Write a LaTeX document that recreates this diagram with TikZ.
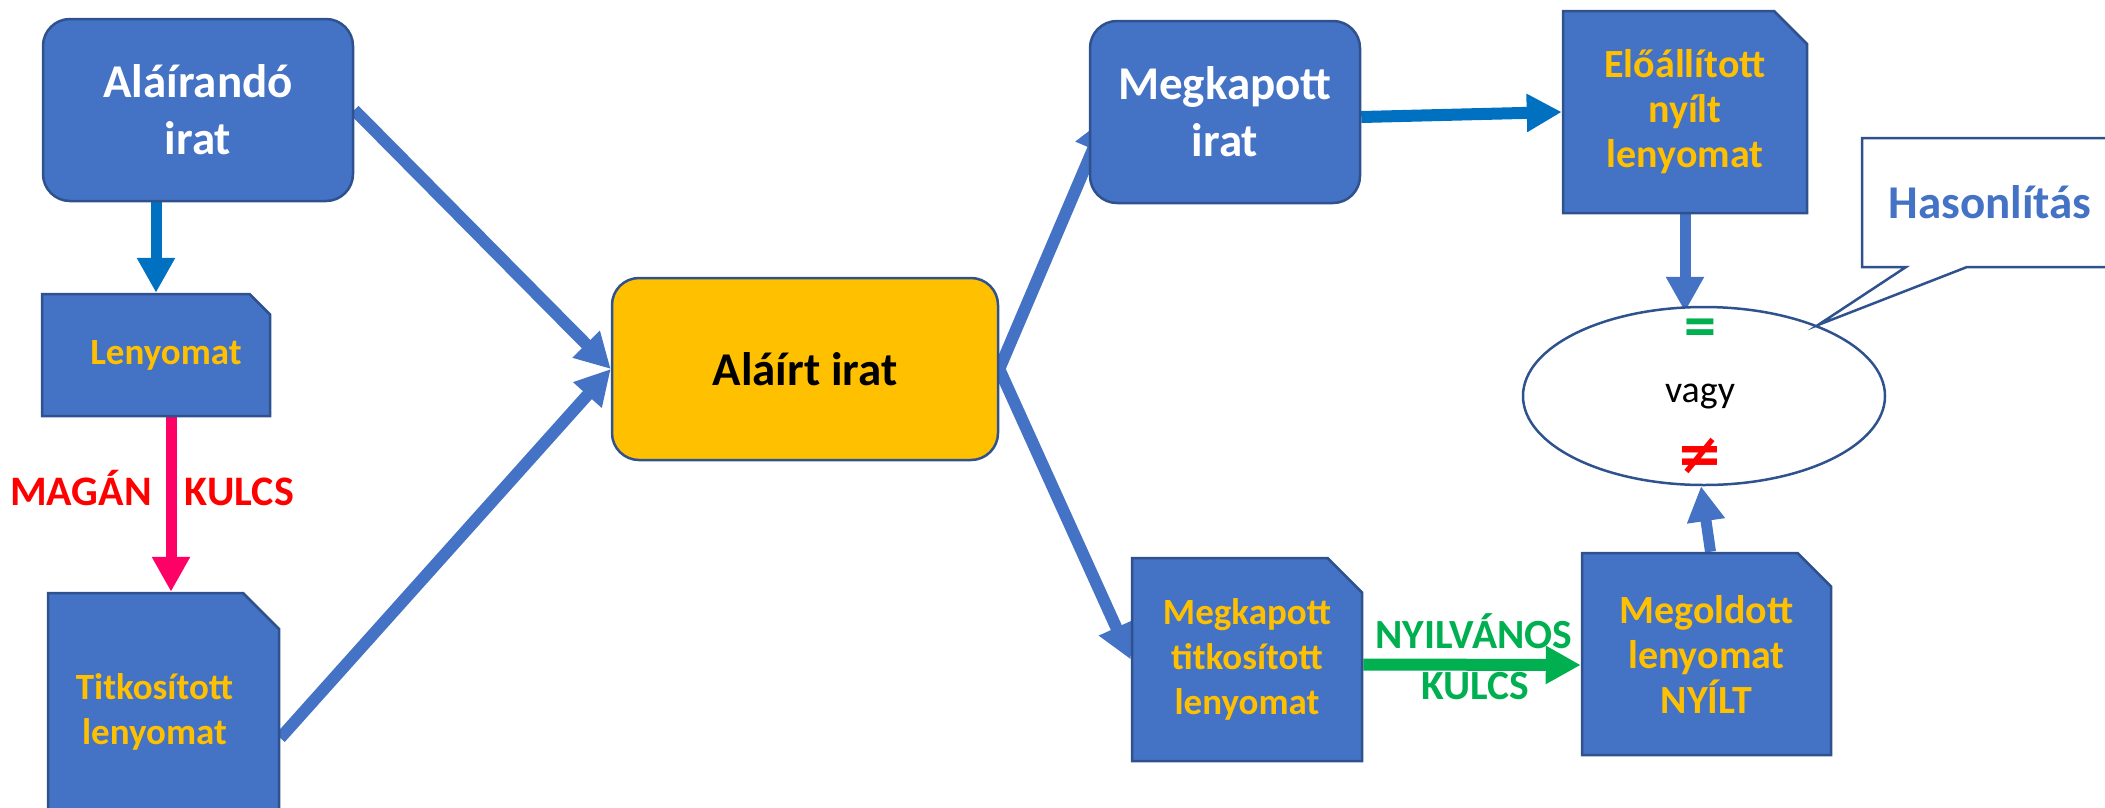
\documentclass[tikz,border=0pt]{standalone}
\usepackage{fontspec}
\setmainfont{Carlito}
\newfontfamily\djv{DejaVu Sans}
\usetikzlibrary{arrows.meta,shapes.misc,shapes.geometric,calc}
\definecolor{blu}{HTML}{4472C4}
\definecolor{bordc}{HTML}{2F528F}
\definecolor{orng}{HTML}{FFC000}
\definecolor{dblu}{HTML}{0070C0}
\definecolor{pinkc}{HTML}{FF0066}
\definecolor{redc}{HTML}{FF0000}
\definecolor{grn}{HTML}{00B050}
\pgfdeclarelayer{bg}
\pgfsetlayers{bg,main}
\newcommand{\fsz}[2]{\fontsize{#1}{#2}\selectfont}
\begin{document}
\begin{tikzpicture}[x=1pt,y=-1pt,
  roundbox/.style={rectangle, rounded corners=27pt, fill=blu, draw=bordc, line width=2.5pt, text=white, font=\bfseries\fsz{47}{57}, align=center, inner sep=0pt},
  docbox/.style={chamfered rectangle, chamfered rectangle corners=north east, fill=blu, draw=bordc, line width=2.5pt, text=orng, font=\bfseries\fsz{37}{45}, align=center, inner sep=0pt},
  tipA/.style={-{Triangle[width=36pt,length=35pt]}},
  conn/.style={tipA, draw=blu, line width=12pt},
  dconn/.style={tipA, draw=dblu, line width=11pt},
  pconn/.style={tipA, draw=pinkc, line width=11pt},
  gconn/.style={tipA, draw=grn, line width=12pt},
]
\useasboundingbox (0,0) rectangle (2105,807);

% boxes
\node[roundbox, minimum width=310pt, minimum height=182pt] (aa) at (198,110) {Aláírandó\\irat};
\node[docbox, minimum width=228pt, minimum height=122pt, chamfered rectangle xsep=10.5pt, chamfered rectangle ysep=10pt] (len) at (156,355) {\hspace*{20pt}Lenyomat};
\node[docbox, minimum width=231pt, minimum height=238pt, chamfered rectangle sep=18pt] (titk) at (163.5,712) {Titkosított\hspace*{18pt}\\lenyomat\hspace*{18pt}};
\node[roundbox, fill=orng, text=black, minimum width=386pt, minimum height=182pt] (signed) at (805,369) {Aláírt irat};
\node[roundbox, minimum width=270pt, minimum height=182pt] (mk) at (1225,112) {Megkapott\\irat};
\node[docbox, minimum width=230pt, minimum height=203pt, chamfered rectangle xsep=17pt, chamfered rectangle ysep=17.5pt] (mkt) at (1247,659.5) {Megkapott\\titkosított\\lenyomat};
\node[docbox, font=\bfseries\fsz{40}{45}, minimum width=244pt, minimum height=202pt, chamfered rectangle xsep=17pt, chamfered rectangle ysep=16pt] (elo) at (1685,112) {Előállított\\nyílt\\lenyomat};
\node[docbox, font=\bfseries\fsz{40}{45}, minimum width=249pt, minimum height=202pt, chamfered rectangle xsep=16.5pt, chamfered rectangle ysep=17pt] (meg) at (1706.5,654) {Megoldott\\lenyomat\\NYÍLT};
\node[ellipse, draw=bordc, line width=2.5pt, fill=white, minimum width=362pt, minimum height=178pt, inner sep=0pt] (ell) at (1704,396) {};

% ellipse contents
\node[text=grn, font=\bfseries\fsz{64}{64}, inner sep=0pt] (eq) at (1700,333) {=};
\node[font=\fsz{38}{46}, anchor=base, inner sep=0pt] (vagy) at (1700,402) {vagy};
\node[text=redc, font=\djv\bfseries\fsz{56}{56}, inner sep=0pt] (neq) at (1700,456) {≠};

% callout
\draw[draw=bordc, line width=2.5pt, fill=white] (2125,138) -- (1862,138) -- (1862,267) -- (1906,267) -- (1818,325) -- (1967,267) -- (2125,267) -- cycle;
\node[text=blu, font=\bfseries\fsz{47}{57}, anchor=base, inner sep=0pt] (hs) at (1990,218) {Hasonlítás};

% labels
\node[text=redc, font=\bfseries\fsz{42}{50}, anchor=base, inner sep=0pt] (priv) at (152,505) {MAGÁN\hspace{33pt}KULCS};
\node[text=grn, font=\bfseries\fsz{41.5}{51}, anchor=base, inner sep=0pt] (pub1) at (1474,648) {NYILVÁNOS};
\node[text=grn, font=\bfseries\fsz{41.5}{51}, anchor=base, inner sep=0pt] (pub2) at (1475,699) {KULCS};

\coordinate (e1) at (elo.south |- ell.north);

% connectors
\begin{pgfonlayer}{bg}
\draw[dconn] (len.north |- aa.south) -- (len.north);
\draw[pconn] ([xshift=15pt]len.south) -- ([xshift=15pt]len.south |- titk.north);
\draw[conn] (aa.east) -- (signed.west);
\draw[conn] ($(titk.east)+(0,26)$) -- (signed.west);
\draw[conn] (signed.east) -- ($(mk.west)+(18,5)$);
\draw[conn] (signed.east) -- (mkt.west);
\draw[dconn, line width=12pt] ($(mk.east)+(0,5)$) -- (elo.west);
\draw[conn, line width=11pt] (elo.south) -- ($(e1)+(0,6)$);
\draw[conn, line width=11pt] ($(meg.north)+(4,0)$) -- ($(ell.south)+(-3,0)$);
\draw[gconn] ($(mkt.east)+(0,5)$) -- ($(meg.west)+(0,11)$);
\end{pgfonlayer}
\end{tikzpicture}
\end{document}
